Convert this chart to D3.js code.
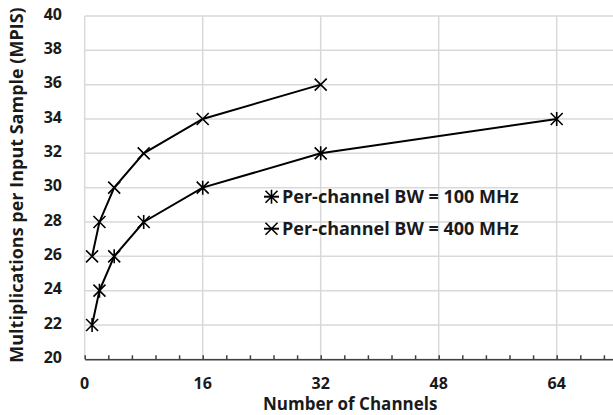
<!DOCTYPE html>
<html><head><meta charset="utf-8">
<script src="https://cdn.jsdelivr.net/npm/d3@7"></script>
<style>body{margin:0;background:#fff}svg{display:block}text{font-family:'Open Sans',sans-serif;font-weight:bold;fill:#1a1a1a}</style>
</head><body><svg id="c" width="613" height="415"></svg>
<script>
const channels100 = [1, 2, 4, 8, 16, 32, 64];
const mpis100 = [22, 24, 26, 28, 30, 32, 34];
const channels400 = [1, 2, 4, 8, 16, 32];
const mpis400 = [26, 28, 30, 32, 34, 36];
const xTicks = [0, 16, 32, 48, 64];
const yTicks = [20, 22, 24, 26, 28, 30, 32, 34, 36, 38, 40];
const seriesNames = ["Per-channel BW = 100 MHz", "Per-channel BW = 400 MHz"];

const svg = d3.select("#c");
const x = d3.scaleLinear().domain([0, 72]).range([84.7, 615.7]);
const y = d3.scaleLinear().domain([20, 40]).range([359.3, 16]);

const grid = "#d9d9d9";
svg.append("g").selectAll("line").data(yTicks).join("line")
  .attr("x1", x(0)).attr("x2", x(72)).attr("y1", d => y(d)).attr("y2", d => y(d))
  .attr("stroke", grid).attr("stroke-width", 1.5);
svg.append("g").selectAll("line").data(xTicks).join("line")
  .attr("x1", d => x(d)).attr("x2", d => x(d)).attr("y1", y(40)).attr("y2", y(20))
  .attr("stroke", grid).attr("stroke-width", 1.5);

const minor = d3.range(0, 72.01, 3.2);
const xAxis = svg.append("g").attr("transform", `translate(0,${y(20)})`)
  .call(d3.axisBottom(x).tickValues(minor).tickSizeInner(-4).tickSizeOuter(0).tickFormat(""));
xAxis.select(".domain").attr("stroke", "#404040").attr("stroke-width", 1.5);
xAxis.selectAll(".tick line").attr("stroke", "#404040").attr("stroke-width", 1.5);

svg.append("g").selectAll("text").data(xTicks).join("text")
  .attr("x", d => x(d)).attr("y", 388.5).attr("text-anchor", "middle")
  .attr("font-size", 16).text(d => d);

svg.append("g").selectAll("text").data(yTicks).join("text")
  .attr("x", 62).attr("y", d => y(d) - 2).attr("dy", "0.35em").attr("text-anchor", "end")
  .attr("font-size", 16).text(d => d);

svg.append("text").attr("x", x(36)).attr("y", 410).attr("text-anchor", "middle")
  .attr("font-size", 17).text("Number of Channels");
svg.append("text").attr("transform", "translate(17,185) rotate(-90)").attr("dy", "0.35em")
  .attr("text-anchor", "middle").attr("font-size", 18).text("Multiplications per Input Sample (MPIS)");

const line = d3.line().x(d => x(d[0])).y(d => y(d[1]));
const s1 = channels100.map((c, i) => [c, mpis100[i]]);
const s2 = channels400.map((c, i) => [c, mpis400[i]]);

function marker(g, cx, cy, star) {
  const r = 6;
  g.append("path").attr("d", `M${cx - r},${cy - r}L${cx + r},${cy + r}M${cx - r},${cy + r}L${cx + r},${cy - r}` +
    (star ? `M${cx},${cy - r - 1}L${cx},${cy + r + 1}` : ""))
    .attr("stroke", "#000").attr("stroke-width", 1.6).attr("fill", "none");
}

[[s1, true], [s2, false]].forEach(([data, star]) => {
  const g = svg.append("g");
  g.append("path").datum(data).attr("d", line).attr("fill", "none").attr("stroke", "#000").attr("stroke-width", 2);
  data.forEach(d => marker(g, x(d[0]), y(d[1]), star));
});

const lg = svg.append("g");
seriesNames.forEach((n, i) => {
  const cy = 196.7 + i * 32;
  lg.append("line").attr("x1", 264).attr("x2", 279).attr("y1", cy).attr("y2", cy)
    .attr("stroke", "#000").attr("stroke-width", 2);
  marker(lg, 271.5, cy, i === 0);
  lg.append("text").attr("x", 282).attr("y", cy).attr("dy", "0.35em").attr("font-size", 18).text(n);
});
</script></body></html>
